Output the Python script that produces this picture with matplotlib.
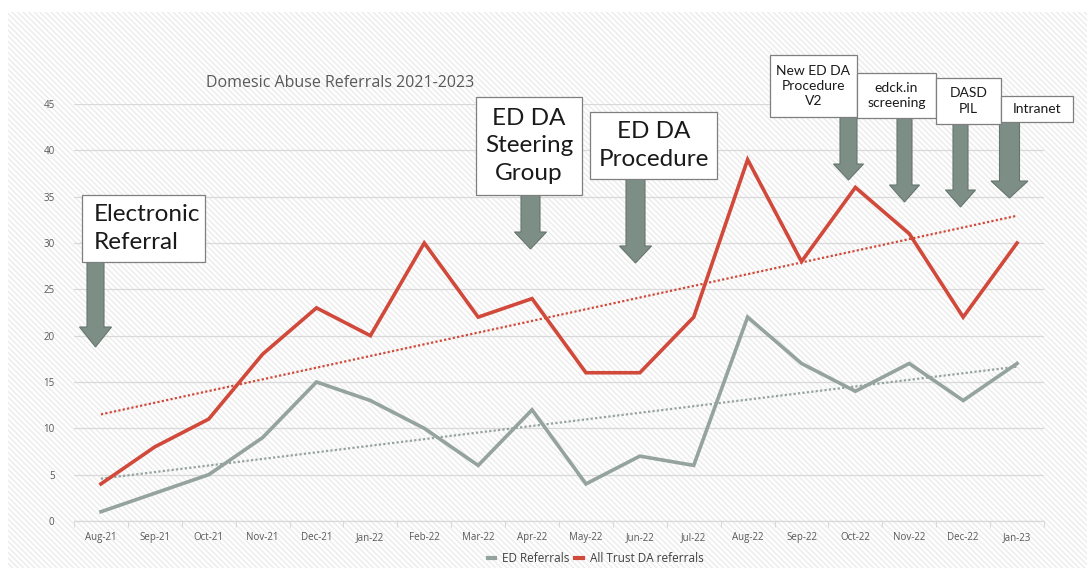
import numpy as np
import matplotlib
matplotlib.use("Agg")
import matplotlib.pyplot as plt
from matplotlib.patches import Rectangle, Polygon
from matplotlib.lines import Line2D

months = ["Aug-21", "Sep-21", "Oct-21", "Nov-21", "Dec-21", "Jan-22", "Feb-22", "Mar-22",
          "Apr-22", "May-22", "Jun-22", "Jul-22", "Aug-22", "Sep-22", "Oct-22", "Nov-22",
          "Dec-22", "Jan-23"]
ed_referrals = [1, 3, 5, 9, 15, 13, 10, 6, 12, 4, 7, 6, 22, 17, 14, 17, 13, 17]
trust_referrals = [4, 8, 11, 18, 23, 20, 30, 22, 24, 16, 16, 22, 39, 28, 36, 31, 22, 30]
y_ticks = [0, 5, 10, 15, 20, 25, 30, 35, 40, 45]

title = "Domesic Abuse Referrals 2021-2023"
series_names = ["ED Referrals", "All Trust DA referrals"]

# annotation boxes: text, box (x0, y0, x1, y1) in pixels, arrow (cx, y_top, y_tip), fontsize, align
annotations = [
    ("Electronic\nReferral", (82, 195, 205, 262), (95.5, 262, 347), 17.5, "left", (17, 32, 20)),
    ("ED DA\nSteering\nGroup", (476, 97, 582, 195), (530.5, 195, 249), 17.5, "center", (19, 32, 17)),
    ("ED DA\nProcedure", (590, 112, 717, 179), (635.5, 179, 263), 17.5, "center", (19, 32, 17)),
    ("New ED DA\nProcedure\nV2", (770, 55, 857, 117), (848.5, 117, 180), 10, "center", (17, 30, 16)),
    ("edck.in\nscreening", (857, 73, 936, 118), (904.5, 118, 202), 10, "center", (15, 30, 17)),
    ("DASD\nPIL", (936, 78, 1001, 124), (960.5, 124, 207), 10, "center", (15, 30, 17)),
    ("Intranet", (1001, 96, 1073, 122), (1009.5, 122, 198), 10, "center", (20, 37, 17)),
]

W, H = 1087, 568
fig = plt.figure(figsize=(W / 100, H / 100), dpi=100)
fig.patch.set_facecolor("white")

# hatched background
bg = fig.add_axes([0, 0, 1, 1], zorder=-1)
bg.set_xlim(0, W)
bg.set_ylim(H, 0)
bg.axis("off")
plt.rcParams["hatch.linewidth"] = 1.2
bg.add_patch(Rectangle((8, 12), W - 8, H - 12, facecolor="white", edgecolor="#eeeeee",
                       hatch="\\\\\\\\\\\\", linewidth=0))

red = "#d1493a"
gray = "#95a39e"
tick_col = "#595959"
font = "Open Sans"

ax = fig.add_axes([74 / W, (H - 521) / H, 970 / W, 417 / H])
ax.set_facecolor("none")
x = np.arange(len(months))
ax.plot(x, ed_referrals, color=gray, lw=2.6, solid_joinstyle="miter", zorder=3)
ax.plot(x, trust_referrals, color=red, lw=2.6, solid_joinstyle="miter", zorder=3)

# linear trendlines
for vals, c in [(ed_referrals, gray), (trust_referrals, red)]:
    p = np.polyfit(x, vals, 1)
    ax.plot(x, np.polyval(p, x), color=c, lw=1.6, ls=(0, (1, 1)), zorder=2)

ax.set_xlim(-0.5, len(months) - 0.5)
ax.set_ylim(0, 45)
ax.set_yticks(y_ticks)
ax.set_xticks(x)
ax.set_xticklabels(months, fontsize=7, color=tick_col, family=font)
ax.set_yticklabels([str(v) for v in y_ticks], fontsize=7, color=tick_col, family=font)
ax.set_xticks(np.arange(-0.5, len(months), 1), minor=True)
ax.tick_params(axis="x", which="major", length=0, pad=8)
ax.tick_params(axis="x", which="minor", length=4, color="#d9d9d9", width=0.8)
ax.tick_params(axis="y", length=0, pad=14)
ax.grid(axis="y", color="#d9d9d9", lw=0.9, zorder=0)
for s in ["top", "right", "left"]:
    ax.spines[s].set_visible(False)
ax.spines["bottom"].set_color("#d9d9d9")
ax.spines["bottom"].set_linewidth(0.9)
ax.set_axisbelow(True)

# overlay for annotations
ov = fig.add_axes([0, 0, 1, 1], zorder=5)
ov.set_xlim(0, W)
ov.set_ylim(H, 0)
ov.axis("off")
ov.patch.set_alpha(0)

ov.text(340, 83, title, ha="center", va="center", fontsize=11.5, color=tick_col, family=font)

arrow_fill = "#7d8e86"
arrow_edge = "#66766f"
for text, (x0, y0, x1, y1), (cx, yt, ytip), fs, align, (sw, hw, hl) in annotations:
    shaft = [(cx - sw / 2, yt), (cx + sw / 2, yt), (cx + sw / 2, ytip - hl),
             (cx + hw / 2, ytip - hl), (cx, ytip), (cx - hw / 2, ytip - hl),
             (cx - sw / 2, ytip - hl)]
    ov.add_patch(Polygon(shaft, closed=True, facecolor=arrow_fill, edgecolor=arrow_edge, lw=0.8, zorder=2))
    ov.add_patch(Rectangle((x0, y0), x1 - x0, y1 - y0, facecolor="white", edgecolor="#7f7f7f",
                           lw=0.9, zorder=3))
    ls = 1.38 if fs > 12 else 1.32
    if align == "left":
        ov.text(x0 + 12, (y0 + y1) / 2, text, ha="left", va="center", fontsize=fs,
                family="Lato", color="#1a1a1a", linespacing=ls, zorder=4)
    else:
        ov.text((x0 + x1) / 2, (y0 + y1) / 2, text, ha="center", va="center", fontsize=fs,
                family="Lato", color="#1a1a1a", linespacing=ls, zorder=4)

handles = [Line2D([0], [0], color=gray, lw=3), Line2D([0], [0], color=red, lw=3)]
leg = fig.legend(handles, series_names, loc="lower center", bbox_to_anchor=(0.548, -0.014),
                 ncol=2, frameon=False, handlelength=0.6, handletextpad=0.6, columnspacing=0.5,
                 prop={"family": font, "size": 8.5})
for t in leg.get_texts():
    t.set_color("#404040")

fig.savefig("out.png", dpi=100)
